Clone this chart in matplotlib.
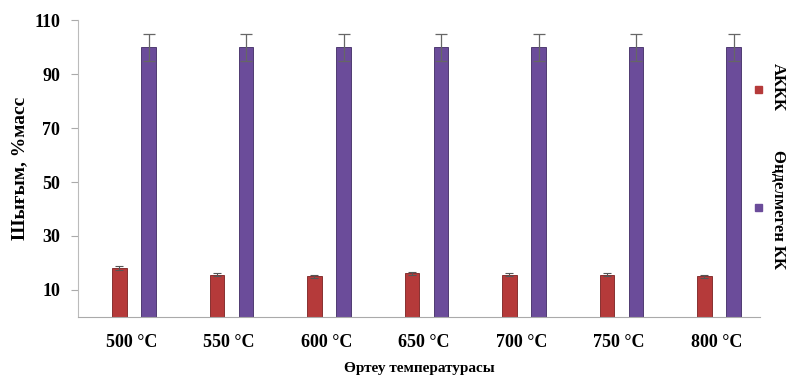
import matplotlib

matplotlib.use("Agg")
import matplotlib.pyplot as plt
import numpy as np

plt.rcParams["font.family"] = ["Liberation Serif", "DejaVu Serif"]
plt.rcParams["font.weight"] = "bold"

categories = ["500 °C", "550 °C", "600 °C", "650 °C", "700 °C", "750 °C", "800 °C"]
blue_vals = [0, 0, 0, 0, 0, 0, 0]
akkk_vals = [18.2, 15.6, 15.0, 16.2, 15.6, 15.6, 15.0]
akkk_err = [0.8, 0.6, 0.6, 0.6, 0.5, 0.6, 0.7]
green_vals = [0, 0, 0, 0, 0, 0, 0]
raw_vals = [100, 100, 100, 100, 100, 100, 100]
raw_err = [5, 5, 5, 5, 5, 5, 5]
yticks = [10, 30, 50, 70, 90, 110]

fig = plt.figure(figsize=(7.88, 3.8), dpi=100)
ax = fig.add_axes([0.099, 0.166, 0.866, 0.781])

x = np.arange(len(categories))
w = 0.15
ax.bar(x - 1.5 * w, blue_vals, w, color="#4f81bd")
ax.bar(x - 0.5 * w, akkk_vals, w, color="#b53a3a", edgecolor="#7a2020", linewidth=0.6,
       yerr=akkk_err, error_kw=dict(ecolor="#555555", capsize=3, elinewidth=0.8, capthick=0.8))
ax.bar(x + 0.5 * w, green_vals, w, color="#9bbb59")
ax.bar(x + 1.5 * w, raw_vals, w, color="#6b4c9a", edgecolor="#3f2a63", linewidth=0.6,
       yerr=raw_err, error_kw=dict(ecolor="#666666", capsize=4, elinewidth=0.9, capthick=0.9))

ax.set_xlim(-0.5, len(categories) - 0.5)
ax.set_ylim(0, 110)
ax.set_yticks(yticks)
ax.set_yticklabels([str(t) for t in yticks], fontsize=13, fontweight="bold")
ax.set_xticks(x + 0.05)
ax.set_xticklabels(categories, fontsize=13, fontweight="bold")
ax.tick_params(axis="x", length=0, pad=12)
ax.tick_params(axis="y", length=5, color="#aaaaaa", pad=8)

for side in ["top", "right"]:
    ax.spines[side].set_visible(False)
ax.spines["left"].set_color("#bbbbbb")
ax.spines["bottom"].set_color("#aaaaaa")

ax.set_ylabel("Шығым, %масс", fontsize=14, fontweight="bold", labelpad=4)
ax.set_xlabel("Өртеу температурасы", fontsize=11, fontweight="bold", labelpad=8)

# legend drawn as rotated entries on the right
fig.patches.append(plt.Rectangle((0.958, 0.755), 0.009, 0.018, transform=fig.transFigure,
                                 color="#b53a3a", figure=fig))
fig.patches.append(plt.Rectangle((0.958, 0.445), 0.009, 0.018, transform=fig.transFigure,
                                 color="#6b4c9a", figure=fig))
fig.text(0.987, 0.77, "АККК", rotation=270, fontsize=12, fontweight="bold",
         ha="center", va="center")
fig.text(0.987, 0.45, "Өңделмеген КК", rotation=270, fontsize=12, fontweight="bold",
         ha="center", va="center")

fig.savefig("out.png", dpi=100)
